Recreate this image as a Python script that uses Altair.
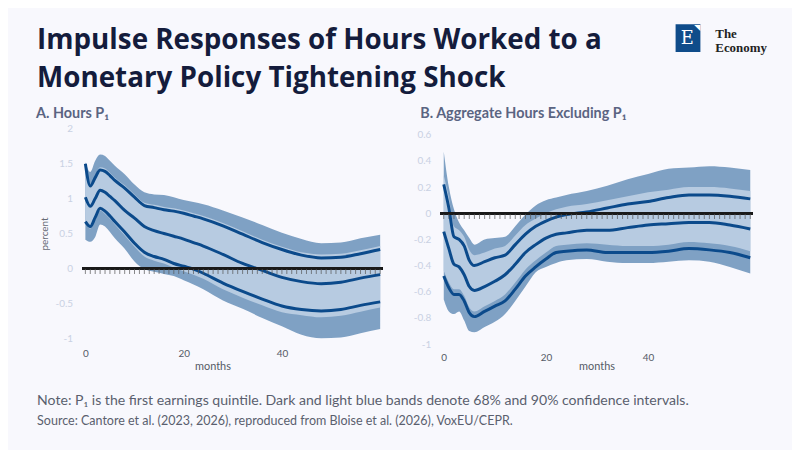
import altair as alt
import pandas as pd

# ---------------- data ----------------
MONTHS = [0, 1, 2, 3, 4, 5, 6, 8, 10, 12, 14, 16, 18, 20, 22, 24, 28, 32, 36, 40, 44, 48, 52, 56, 60]

# Panel A: Hours P1
A_MID = [1.02, 0.89, 1.00, 1.12, 1.09, 1.03, 0.97, 0.83, 0.72, 0.60, 0.54, 0.50, 0.46, 0.42, 0.37, 0.32, 0.20, 0.07, -0.03, -0.13, -0.19, -0.22, -0.20, -0.14, -0.09]
A_UP = [1.50, 1.18, 1.30, 1.41, 1.39, 1.33, 1.26, 1.15, 1.02, 0.90, 0.87, 0.84, 0.82, 0.79, 0.75, 0.71, 0.61, 0.49, 0.37, 0.27, 0.19, 0.15, 0.16, 0.21, 0.27]
A_LO = [0.67, 0.60, 0.73, 0.86, 0.82, 0.75, 0.67, 0.52, 0.36, 0.23, 0.17, 0.13, 0.07, 0.03, -0.01, -0.07, -0.21, -0.33, -0.44, -0.54, -0.59, -0.61, -0.59, -0.53, -0.48]
A_DARK_HI = [1.52, 1.38, 1.54, 1.63, 1.61, 1.54, 1.47, 1.35, 1.20, 1.09, 1.06, 1.05, 1.02, 0.98, 0.95, 0.92, 0.83, 0.73, 0.62, 0.51, 0.42, 0.36, 0.37, 0.43, 0.48]
A_DARK_LO = [0.41, 0.38, 0.45, 0.63, 0.60, 0.52, 0.43, 0.28, 0.10, -0.01, -0.05, -0.08, -0.11, -0.17, -0.23, -0.30, -0.46, -0.58, -0.71, -0.83, -0.95, -1.00, -0.99, -0.93, -0.87]
A_LIGHT_HI = [1.50, 1.21, 1.33, 1.45, 1.43, 1.37, 1.30, 1.19, 1.06, 0.94, 0.91, 0.88, 0.86, 0.83, 0.79, 0.75, 0.65, 0.53, 0.41, 0.31, 0.23, 0.20, 0.21, 0.26, 0.32]
A_LIGHT_LO = [0.64, 0.57, 0.70, 0.83, 0.78, 0.71, 0.63, 0.47, 0.31, 0.17, 0.11, 0.07, 0.01, -0.04, -0.09, -0.15, -0.30, -0.42, -0.53, -0.63, -0.67, -0.70, -0.68, -0.62, -0.56]

# Panel B: Aggregate Hours Excluding P1
B_MID = [-0.14, -0.27, -0.39, -0.41, -0.47, -0.56, -0.59, -0.56, -0.52, -0.47, -0.39, -0.30, -0.24, -0.19, -0.16, -0.15, -0.13, -0.13, -0.11, -0.09, -0.08, -0.07, -0.07, -0.09, -0.12]
B_UP = [0.22, 0.04, -0.18, -0.20, -0.25, -0.36, -0.40, -0.37, -0.34, -0.32, -0.24, -0.16, -0.10, -0.06, -0.03, -0.01, 0.01, 0.04, 0.07, 0.09, 0.12, 0.14, 0.14, 0.13, 0.11]
B_LO = [-0.48, -0.57, -0.62, -0.62, -0.67, -0.76, -0.79, -0.75, -0.71, -0.67, -0.58, -0.48, -0.41, -0.35, -0.30, -0.29, -0.28, -0.30, -0.30, -0.30, -0.29, -0.27, -0.28, -0.30, -0.34]
B_DARK_HI = [0.47, 0.20, 0.03, -0.07, -0.13, -0.19, -0.24, -0.20, -0.19, -0.18, -0.10, -0.01, 0.06, 0.10, 0.12, 0.14, 0.17, 0.21, 0.26, 0.30, 0.34, 0.35, 0.36, 0.35, 0.33]
B_DARK_LO = [-0.66, -0.75, -0.77, -0.75, -0.82, -0.90, -0.91, -0.87, -0.83, -0.77, -0.67, -0.56, -0.45, -0.41, -0.38, -0.36, -0.35, -0.37, -0.38, -0.38, -0.37, -0.36, -0.37, -0.41, -0.46]
B_LIGHT_HI = [0.29, 0.12, -0.10, -0.13, -0.18, -0.28, -0.32, -0.30, -0.27, -0.25, -0.17, -0.09, -0.04, 0.00, 0.03, 0.05, 0.07, 0.10, 0.13, 0.16, 0.18, 0.20, 0.20, 0.19, 0.17]
B_LIGHT_LO = [-0.44, -0.53, -0.58, -0.58, -0.63, -0.72, -0.75, -0.71, -0.67, -0.62, -0.53, -0.43, -0.36, -0.30, -0.25, -0.24, -0.23, -0.24, -0.25, -0.25, -0.24, -0.22, -0.23, -0.25, -0.29]

TICK_MONTHS = list(range(0, 61))
X_LABELS = [0, 20, 40]
A_Y_TICKS = [-1, -0.5, 0, 0.5, 1, 1.5, 2]
B_Y_TICKS = [-1, -0.8, -0.6, -0.4, -0.2, 0, 0.2, 0.4, 0.6]

TITLE = "Impulse Responses of Hours Worked to a\nMonetary Policy Tightening Shock"
TITLE_A = "A. Hours P\u2081"
TITLE_B = "B. Aggregate Hours Excluding P\u2081"
NOTE = "Note: P\u2081 is the first earnings quintile. Dark and light blue bands denote 68% and 90% confidence intervals."
SOURCE = "Source: Cantore et al. (2023, 2026), reproduced from Bloise et al. (2026), VoxEU/CEPR."
LOGO_LETTER = "E"
LOGO_CORNER = "\u25e5"
LOGO_WORDS = ["The", "Economy"]

# ---------------- style ----------------
BG = "#f8f8fd"
DARK = "#7fa1c4"
LIGHT = "#b7cbe1"
LINE = "#0b4a8b"
FONT = "Lato"
TITLE_FONT = "Open Sans"
YLAB = "#c9d1e3"
XLAB = "#555b66"
PANEL_TITLE_COLOR = "#5a6482"

label_expr = "datum.value < 0 ? '-' + format(-datum.value, '~g') : format(datum.value, '~g')"

one = pd.DataFrame({"k": [0]})


def text_layer(txt, x, y, **kw):
    return alt.Chart(one).mark_text(**kw).encode(
        x=alt.value(x), y=alt.value(y), text=alt.value(txt))


def panel(mid, up, lo, dhi, dlo, lhi, llo, width, height, yticks, yrange,
          ytitle, title, title_dx, xtitle_x, xtitle_y, xlab_pad, extras):
    df = pd.DataFrame({"month": MONTHS, "mid": mid, "up": up, "lo": lo,
                       "dhi": dhi, "dlo": dlo, "lhi": lhi, "llo": llo})
    ticks_df = pd.DataFrame({"month": TICK_MONTHS})

    xs = alt.Scale(domain=[-0.6, 60.4], nice=False, zero=False)
    ys = alt.Scale(domain=[yticks[0], yticks[-1]], nice=False, zero=False, range=yrange)

    xaxis_kw = dict(values=X_LABELS, domain=False, ticks=False, grid=False,
                    labelPadding=xlab_pad, labelColor=XLAB, labelFontSize=10, labelFont=FONT,
                    labelOverlap=False,
                    titleFontSize=11, titleFontWeight="normal", titleColor=XLAB, titleFont=FONT,
                    titleY=xtitle_y, titleBaseline="middle", titleAlign="center")
    if xtitle_x is not None:
        xaxis_kw["titleX"] = xtitle_x
    xaxis = alt.Axis(**xaxis_kw)
    yaxis = alt.Axis(values=yticks, domain=False, ticks=False, grid=False,
                     labelPadding=10, labelColor=YLAB, labelFontSize=10, labelFont=FONT,
                     labelOverlap=False, labelExpr=label_expr,
                     titleFontSize=10, titleFontWeight="normal",
                     titleColor="#666a75", titleFont=FONT, titlePadding=6)

    X = lambda: alt.X("month:Q", scale=xs, axis=xaxis, title="months")
    Y = lambda f: alt.Y(f + ":Q", scale=ys, axis=yaxis, title=ytitle)
    Y0 = lambda: alt.YDatum(0, scale=ys, axis=yaxis, title=ytitle)

    base = alt.Chart(df)
    dark = base.mark_area(color=DARK, opacity=1, interpolate="monotone").encode(x=X(), y=Y("dlo"), y2="dhi")
    light = base.mark_area(color=LIGHT, opacity=1, interpolate="monotone").encode(x=X(), y=Y("llo"), y2="lhi")
    lines = [base.mark_line(color=LINE, strokeWidth=3, interpolate="monotone").encode(x=X(), y=Y(f))
             for f in ["up", "mid", "lo"]]
    zero = alt.Chart(ticks_df).mark_rule(color="#1a1a1a", strokeWidth=2.2).encode(y=Y0())
    tks = alt.Chart(ticks_df).mark_tick(color="#555555", size=5, thickness=1, yOffset=3.2).encode(
        x=X(), y=Y0())
    ptitle = text_layer(title, title_dx, -10.6, align="left", baseline="alphabetic", font=FONT,
                        fontSize=14.5, fontWeight="bold", color=PANEL_TITLE_COLOR)

    layers = [dark, light] + lines + [zero, tks, ptitle] + extras
    return alt.layer(*layers).properties(width=width, height=height)


extras_a = [
    text_layer(TITLE, -45.7, -80.3, align="left", baseline="alphabetic", font=TITLE_FONT,
               fontSize=28, fontWeight="bold", color="#141c3c", lineBreak="\n", lineHeight=38),
    text_layer(NOTE, -45.7, 274.7, align="left", baseline="middle", font=FONT,
               fontSize=14.2, color="#5a5f6e"),
    text_layer(SOURCE, -45.7, 294.7, align="left", baseline="middle", font=FONT,
               fontSize=12.6, color="#5a5f6e"),
]

extras_b = [
    alt.Chart(one).mark_rect(color="#0f4c8a")
    .encode(x=alt.value(236.7), x2=alt.value(261.7), y=alt.value(-105.3), y2=alt.value(-77.3)),
    text_layer(LOGO_LETTER, 248.5, -90.5, align="center", baseline="middle", font="DejaVu Serif",
               fontSize=18, color="white"),
    text_layer(LOGO_CORNER, 261.7, -105.3, align="right", baseline="top", font="DejaVu Sans",
               fontSize=8, color="white"),
    text_layer(LOGO_WORDS[0], 276.7, -95.5, align="left", baseline="middle", font="Liberation Serif",
               fontSize=13, fontWeight="bold", color="#222222"),
    text_layer(LOGO_WORDS[1], 276.7, -81.5, align="left", baseline="middle", font="Liberation Serif",
               fontSize=13, fontWeight="bold", color="#222222"),
]

pa = panel(A_MID, A_UP, A_LO, A_DARK_HI, A_DARK_LO, A_LIGHT_HI, A_LIGHT_LO,
           302, 211, A_Y_TICKS, [211, 0], "percent", TITLE_A, -46.7, 131, 28.4, 10, extras_a)
pb = panel(B_MID, B_UP, B_LO, B_DARK_HI, B_DARK_LO, B_LIGHT_HI, B_LIGHT_LO,
           314, 217, B_Y_TICKS, [217, 6], "", TITLE_B, -20.6, None, 22.4, 9, extras_b)

chart = alt.hconcat(pa, pb, spacing=59, bounds="flush").properties(
    background=BG,
    padding={"left": 28, "top": 14, "right": 25, "bottom": 20},
).configure_view(stroke=None).configure_axis(labelFont=FONT, titleFont=FONT, labelOverlap=False)

chart.save("out.html", embed_options={"renderer": "svg", "actions": False})
